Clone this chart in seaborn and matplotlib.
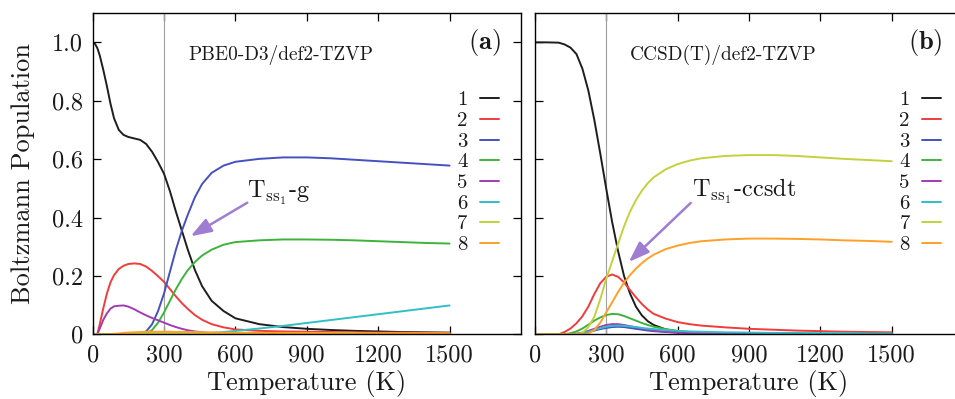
import pandas as pd
import matplotlib
matplotlib.use("Agg")
import matplotlib.pyplot as plt
import seaborn as sns

# ---------------------------
# Data
# ---------------------------
conformers = ["1", "2", "3", "4", "5", "6", "7", "8"]
colors = ["#1e1e1e", "#f03c3c", "#4650c0", "#3cb43c",
          "#a03cb4", "#32bec8", "#c3d23c", "#ffa028"]

# (a) PBE0-D3/def2-TZVP
temp_a = [0, 10, 20, 30, 45, 60, 75, 90, 110, 130, 150, 175, 200, 225, 250, 275, 300,
          325, 350, 375, 400, 430, 460, 500, 550, 600, 700, 800, 900, 1000, 1100, 1200,
          1300, 1400, 1500]
pop_a1 = [1.0, 0.995, 0.98, 0.955, 0.905, 0.85, 0.79, 0.74, 0.70, 0.683, 0.676, 0.671,
          0.666, 0.652, 0.625, 0.59, 0.55, 0.49, 0.42, 0.355, 0.29, 0.22, 0.165, 0.115,
          0.08, 0.055, 0.035, 0.025, 0.019, 0.015, 0.012, 0.01, 0.008, 0.007, 0.006]
pop_a2 = [0, 0, 0.002, 0.035, 0.09, 0.14, 0.178, 0.203, 0.224, 0.235, 0.241, 0.243,
          0.241, 0.232, 0.217, 0.199, 0.18, 0.155, 0.13, 0.107, 0.087, 0.066, 0.05,
          0.035, 0.024, 0.017, 0.012, 0.01, 0.009, 0.008, 0.007, 0.006, 0.006, 0.005, 0.005]
pop_a3 = [0, 0, 0, 0, 0, 0, 0, 0, 0, 0, 0, 0, 0.002, 0.01, 0.035, 0.08, 0.14, 0.215,
          0.29, 0.355, 0.41, 0.47, 0.515, 0.553, 0.578, 0.591, 0.601, 0.606, 0.606, 0.603,
          0.598, 0.593, 0.588, 0.583, 0.578]
pop_a4 = [0, 0, 0, 0, 0, 0, 0, 0, 0, 0, 0, 0, 0, 0.002, 0.015, 0.04, 0.075, 0.115,
          0.155, 0.19, 0.22, 0.248, 0.27, 0.29, 0.307, 0.316, 0.322, 0.325, 0.325, 0.324,
          0.322, 0.319, 0.316, 0.313, 0.311]
pop_a5 = [0, 0, 0, 0.02, 0.05, 0.072, 0.088, 0.096, 0.098, 0.099, 0.095, 0.086, 0.075,
          0.065, 0.056, 0.048, 0.04, 0.032, 0.025, 0.019, 0.014, 0.01, 0.007, 0.004,
          0.003, 0.002, 0.002, 0.001, 0.001, 0.001, 0.001, 0.001, 0.001, 0.001, 0.001]
pop_a6 = [0, 0, 0, 0, 0, 0, 0, 0, 0, 0, 0, 0, 0, 0, 0, 0, 0, 0, 0, 0, 0, 0.001, 0.003,
          0.005, 0.008, 0.012, 0.02, 0.029, 0.039, 0.049, 0.059, 0.069, 0.079, 0.089, 0.099]
pop_a7 = [0, 0, 0, 0, 0, 0, 0, 0, 0.001, 0.001, 0.002, 0.003, 0.004, 0.004, 0.005,
          0.005, 0.005, 0.005, 0.005, 0.005, 0.005, 0.005, 0.004, 0.004, 0.004, 0.003,
          0.003, 0.003, 0.003, 0.002, 0.002, 0.002, 0.002, 0.002, 0.002]
pop_a8 = [0, 0, 0, 0, 0, 0, 0, 0.002, 0.003, 0.005, 0.006, 0.007, 0.008, 0.009, 0.009,
          0.009, 0.009, 0.009, 0.008, 0.008, 0.008, 0.008, 0.007, 0.007, 0.006, 0.006,
          0.005, 0.005, 0.005, 0.005, 0.005, 0.004, 0.004, 0.004, 0.004]

# (b) CCSD(T)/def2-TZVP
temp_b = [0, 50, 100, 125, 150, 175, 200, 225, 250, 275, 300, 325, 350, 375, 400, 425,
          450, 475, 500, 550, 600, 650, 700, 800, 900, 1000, 1100, 1200, 1300, 1400, 1500]
pop_b1 = [1, 1, 0.999, 0.993, 0.982, 0.96, 0.91, 0.835, 0.735, 0.62, 0.5, 0.385, 0.285,
          0.2, 0.14, 0.095, 0.065, 0.045, 0.032, 0.017, 0.01, 0.006, 0.004, 0.002, 0.001,
          0.001, 0.001, 0.001, 0.001, 0.001, 0.001]
pop_b2 = [0, 0, 0, 0.008, 0.02, 0.038, 0.062, 0.095, 0.138, 0.175, 0.197, 0.205, 0.197,
          0.178, 0.152, 0.127, 0.104, 0.085, 0.07, 0.054, 0.042, 0.035, 0.03, 0.024,
          0.019, 0.016, 0.013, 0.011, 0.009, 0.008, 0.007]
pop_b3 = [0, 0, 0, 0, 0, 0.001, 0.004, 0.008, 0.013, 0.018, 0.022, 0.025, 0.026, 0.025,
          0.022, 0.019, 0.016, 0.013, 0.011, 0.008, 0.006, 0.004, 0.003, 0.002, 0.001,
          0.001, 0.001, 0.001, 0.001, 0.001, 0.001]
pop_b4 = [0, 0, 0, 0, 0.004, 0.01, 0.02, 0.033, 0.047, 0.058, 0.066, 0.07, 0.069, 0.063,
          0.055, 0.047, 0.039, 0.032, 0.026, 0.018, 0.012, 0.008, 0.006, 0.004, 0.003,
          0.002, 0.002, 0.002, 0.001, 0.001, 0.001]
pop_b5 = [0, 0, 0, 0, 0, 0.002, 0.006, 0.012, 0.019, 0.026, 0.032, 0.035, 0.035, 0.032,
          0.028, 0.024, 0.02, 0.016, 0.013, 0.009, 0.006, 0.004, 0.003, 0.002, 0.001,
          0.001, 0.001, 0.001, 0.001, 0.001, 0.001]
pop_b6 = [0, 0, 0, 0, 0, 0.001, 0.004, 0.009, 0.015, 0.021, 0.026, 0.029, 0.03, 0.029,
          0.027, 0.025, 0.022, 0.02, 0.018, 0.015, 0.012, 0.01, 0.009, 0.007, 0.006,
          0.005, 0.005, 0.004, 0.004, 0.003, 0.003]
pop_b7 = [0, 0, 0, 0, 0, 0, 0.005, 0.025, 0.06, 0.12, 0.19, 0.25, 0.31, 0.37, 0.42, 0.46,
          0.492, 0.518, 0.538, 0.565, 0.583, 0.595, 0.603, 0.611, 0.614, 0.614, 0.611,
          0.606, 0.601, 0.597, 0.593]
pop_b8 = [0, 0, 0, 0, 0, 0, 0, 0.003, 0.015, 0.04, 0.075, 0.11, 0.145, 0.177, 0.203,
          0.225, 0.244, 0.26, 0.273, 0.292, 0.304, 0.313, 0.319, 0.325, 0.328, 0.328,
          0.327, 0.325, 0.322, 0.32, 0.317]

x_ticks = [0, 300, 600, 900, 1200, 1500]
x_ticklabels = ["0", "300", "600", "900", "1200", "1500"]
y_ticks = [0, 0.2, 0.4, 0.6, 0.8, 1.0]
y_ticklabels = ["0", "0.2", "0.4", "0.6", "0.8", "1.0"]


def long_form(temps, pops):
    frames = []
    for name, p in zip(conformers, pops):
        frames.append(pd.DataFrame({"T": temps, "pop": p, "conf": name}))
    return pd.concat(frames, ignore_index=True)


df_a = long_form(temp_a, [pop_a1, pop_a2, pop_a3, pop_a4, pop_a5, pop_a6, pop_a7, pop_a8])
df_b = long_form(temp_b, [pop_b1, pop_b2, pop_b3, pop_b4, pop_b5, pop_b6, pop_b7, pop_b8])

# ---------------------------
# Style
# ---------------------------
sns.set_style("ticks")
plt.rcParams["font.family"] = "serif"
plt.rcParams["font.serif"] = ["cmr10"]
plt.rcParams["mathtext.fontset"] = "cm"
plt.rcParams["axes.formatter.use_mathtext"] = True
plt.rcParams["axes.unicode_minus"] = False

text_col = "#1a1a1a"
arrow_col = "#9e7dd2"
palette = dict(zip(conformers, colors))

fig = plt.figure(figsize=(9.55, 3.99), dpi=100)
ax1 = fig.add_axes([0.097, 0.162, 0.4485, 0.805])
ax2 = fig.add_axes([0.560, 0.162, 0.4485, 0.805])

panels = [
    (ax1, df_a, "PBE0-D3/def2-TZVP", "a", r"$\mathrm{T}_{\mathrm{ss}_1}$-g",
     (650, 0.468), (650, 0.451), (412, 0.336)),
    (ax2, df_b, "CCSD(T)/def2-TZVP", "b", r"$\mathrm{T}_{\mathrm{ss}_1}$-ccsdt",
     (659, 0.470), (655, 0.450), (395, 0.248)),
]

for ax, df, method, tag, ann, txt_xy, tail_xy, head_xy in panels:
    ax.axvline(300, color="#a0a0a0", lw=0.8, zorder=1)
    sns.lineplot(data=df, x="T", y="pop", hue="conf", hue_order=conformers,
                 palette=palette, lw=1.4, errorbar=None, sort=True, ax=ax)

    ax.set_xlim(0, 1800)
    ax.set_ylim(0, 1.1)
    ax.set_xticks(x_ticks)
    ax.set_xticklabels(x_ticklabels)
    ax.set_yticks(y_ticks)
    ax.set_yticklabels(y_ticklabels)
    ax.tick_params(direction="in", top=True, right=True, length=6, width=0.9,
                   labelsize=17.5, pad=7, colors="black", labelcolor=text_col)
    for s in ax.spines.values():
        s.set_linewidth(1.0)
        s.set_color("black")
    ax.set_xlabel("Temperature (K)", fontsize=19, color=text_col, labelpad=3)

    ax.text(401, 0.958, method, fontsize=13.9, color=text_col, ha="left", va="center")
    ax.text(0.953, 1.0, "(" + r"$\mathbf{" + tag + "}$" + ")", transform=ax.get_yaxis_transform(),
            fontsize=19, color=text_col, ha="right", va="center")
    ax.text(txt_xy[0], txt_xy[1], ann, fontsize=17.5, color=text_col,
            ha="left", va="baseline")
    ax.annotate("", xy=head_xy, xytext=tail_xy,
                arrowprops=dict(arrowstyle="-|>,head_length=0.9,head_width=0.32",
                                color=arrow_col, lw=1.8, shrinkA=0, shrinkB=0,
                                mutation_scale=14))

    sns.move_legend(ax, "upper right", bbox_to_anchor=(0.9486, 0.758), title=None,
                    frameon=False, markerfirst=False, fontsize=15, labelspacing=0.1,
                    handlelength=0.9, handletextpad=0.6, borderpad=0, borderaxespad=0)
    for t in ax.get_legend().get_texts():
        t.set_color(text_col)

ax1.set_ylabel("Boltzmann Population", fontsize=19, color=text_col, labelpad=12)
ax2.set_ylabel("")
ax2.tick_params(labelleft=False)

fig.savefig("out.png", dpi=100)
